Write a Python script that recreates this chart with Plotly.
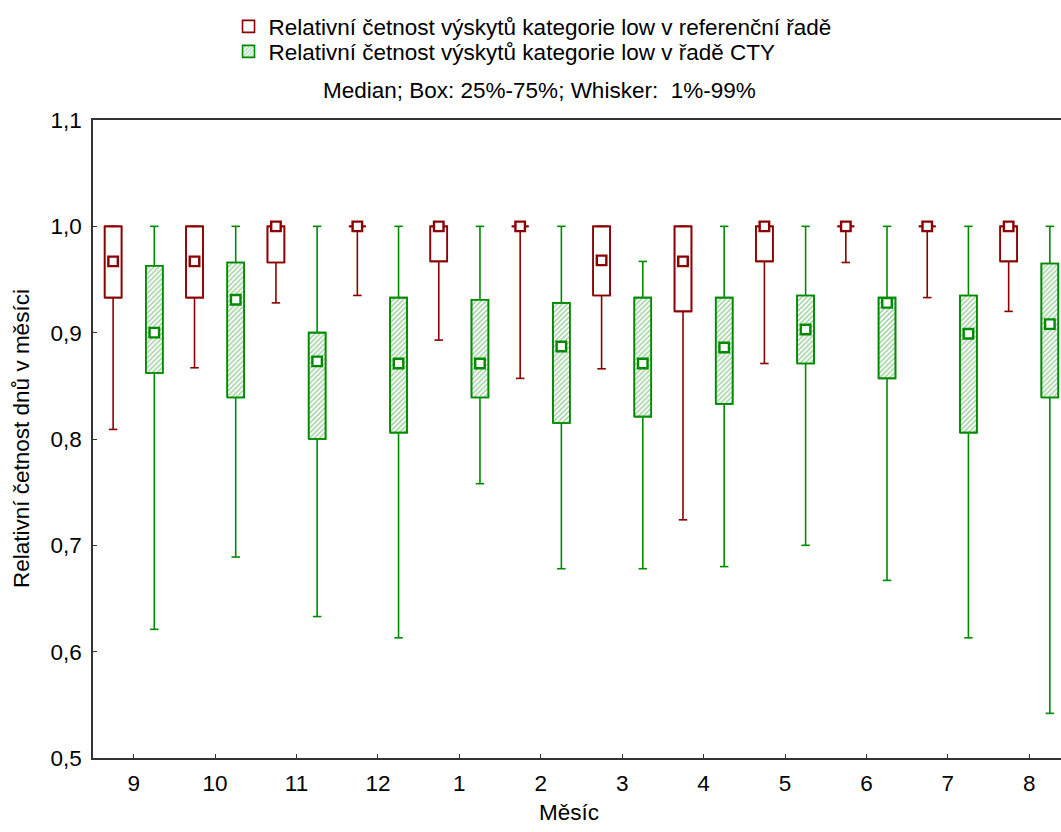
import plotly.graph_objects as go

# Months of the hydrological year, in plotting order
months = ["9", "10", "11", "12", "1", "2", "3", "4", "5", "6", "7", "8"]

# Reference series: 1 %, 25 %, median, 75 %, 99 %
ref_low = [0.809, 0.867, 0.928, 0.935, 0.893, 0.857, 0.866, 0.724, 0.871, 0.966, 0.933, 0.920]
ref_q1 = [0.933, 0.933, 0.966, 1.000, 0.967, 1.000, 0.935, 0.920, 0.967, 1.000, 1.000, 0.967]
ref_med = [0.967, 0.967, 1.000, 1.000, 1.000, 1.000, 0.968, 0.967, 1.000, 1.000, 1.000, 1.000]
ref_q3 = [1.000, 1.000, 1.000, 1.000, 1.000, 1.000, 1.000, 1.000, 1.000, 1.000, 1.000, 1.000]
ref_high = [1.000, 1.000, 1.000, 1.000, 1.000, 1.000, 1.000, 1.000, 1.000, 1.000, 1.000, 1.000]

# CTY series: 1 %, 25 %, median, 75 %, 99 %
cty_low = [0.621, 0.689, 0.633, 0.613, 0.758, 0.678, 0.678, 0.680, 0.700, 0.667, 0.613, 0.542]
cty_q1 = [0.862, 0.839, 0.800, 0.806, 0.839, 0.815, 0.821, 0.833, 0.871, 0.857, 0.806, 0.839]
cty_med = [0.900, 0.931, 0.873, 0.871, 0.871, 0.887, 0.871, 0.886, 0.903, 0.928, 0.899, 0.908]
cty_q3 = [0.963, 0.966, 0.900, 0.933, 0.931, 0.928, 0.933, 0.933, 0.935, 0.933, 0.935, 0.965]
cty_high = [1.000, 1.000, 1.000, 1.000, 1.000, 1.000, 0.967, 1.000, 1.000, 1.000, 1.000, 1.000]

RED = "#8b0000"
GREEN = "#008a00"
FONT = "Liberation Sans, Arial, sans-serif"
FS = 22.5

OFF = 0.253   # horizontal offset of each box from the month tick
BW = 0.208    # box width (axis units)
CAP = 0.104   # whisker cap width (axis units)

idx = list(range(len(months)))
x_ref = [i - OFF for i in idx]
x_cty = [i + OFF for i in idx]


def whiskers(xs, lo, q1, q3, hi):
    wx, wy = [], []
    for x, a, b, c, d in zip(xs, lo, q1, q3, hi):
        for y0, y1 in ((b, a), (c, d)):
            wx += [x, x, None, x - CAP / 2, x + CAP / 2, None]
            wy += [y0, y1, None, y1, y1, None]
    return wx, wy


def outlines(xs, q1, q3):
    ox, oy = [], []
    for x, b, c in zip(xs, q1, q3):
        l, r = x - BW / 2, x + BW / 2
        ox += [l, r, r, l, l, None]
        oy += [b, b, c, c, b, None]
    return ox, oy


fig = go.Figure()

series = [
    ("Relativní četnost výskytů kategorie low v referenční řadě", x_ref,
     ref_low, ref_q1, ref_med, ref_q3, ref_high, RED, None, "legend"),
    ("Relativní četnost výskytů kategorie low v řadě CTY", x_cty,
     cty_low, cty_q1, cty_med, cty_q3, cty_high, GREEN,
     dict(shape="/", fgcolor="#2e9a2e", bgcolor="white", size=3.5, solidity=0.4), "legend2"),
]

for name, xs, lo, q1, med, q3, hi, col, pat, leg in series:
    marker = dict(color="white", line=dict(color=col, width=1.6))
    if pat:
        marker["pattern"] = pat
    fig.add_trace(go.Bar(
        x=xs, base=q1, y=[c - b for b, c in zip(q1, q3)], width=BW,
        marker=marker, name=name, showlegend=True, legend=leg, hoverinfo="skip",
    ))
    wx, wy = whiskers(xs, lo, q1, q3, hi)
    fig.add_trace(go.Scatter(x=wx, y=wy, mode="lines", line=dict(color=col, width=1.6),
                             showlegend=False, hoverinfo="skip"))
    ox, oy = outlines(xs, q1, q3)
    fig.add_trace(go.Scatter(x=ox, y=oy, mode="lines", line=dict(color=col, width=1.6),
                             showlegend=False, hoverinfo="skip"))
    fig.add_trace(go.Scatter(
        x=xs, y=med, mode="markers",
        marker=dict(symbol="square", size=9.5, color="white", line=dict(color=col, width=2.4)),
        showlegend=False, hoverinfo="skip",
    ))

legend_common = dict(
    xanchor="left", yanchor="middle", bgcolor="rgba(0,0,0,0)",
    font=dict(family=FONT, size=FS, color="black"), itemclick=False,
)

fig.update_layout(
    width=1061, height=832,
    margin=dict(l=93, r=0, t=120, b=74),
    paper_bgcolor="white", plot_bgcolor="white",
    separators=", ",
    barmode="overlay",
    font=dict(family=FONT, size=FS, color="black"),
    showlegend=True,
    legend=dict(x=0.14, y=1 + (120 - 26.7) / 638, **legend_common),
    legend2=dict(x=0.14, y=1 + (120 - 51.7) / 638, **legend_common),
    xaxis=dict(
        range=[-0.5, 11.39], tickmode="array", tickvals=idx, ticktext=months,
        ticks="inside", ticklen=4, tickcolor="#333", showline=True, linecolor="#333",
        linewidth=1.5, mirror=True, showgrid=False, zeroline=False,
        ticklabelstandoff=4,
        tickfont=dict(family=FONT, size=FS, color="black"),
    ),
    yaxis=dict(
        range=[0.5, 1.1], tickmode="linear", tick0=0.5, dtick=0.1, tickformat=".1f",
        ticks="inside", ticklen=4, tickcolor="#333", showline=True, linecolor="#333",
        linewidth=1.5, showgrid=False, zeroline=False,
        ticklabelstandoff=5,
        tickfont=dict(family=FONT, size=FS, color="black"),
    ),
    annotations=[
        dict(text="Median; Box: 25%-75%; Whisker: \u00a01%-99%", x=0.461, y=1 + 30 / 638,
             xref="paper", yref="paper", xanchor="center", yanchor="middle",
             showarrow=False, font=dict(family=FONT, size=FS, color="black")),
        dict(text="Relativní četnost dnů v měsíci", x=-72 / 968, y=0.5,
             xref="paper", yref="paper", xanchor="center", yanchor="middle",
             textangle=-90, showarrow=False, font=dict(family=FONT, size=FS, color="black")),
        dict(text="Měsíc", x=476 / 968, y=-54 / 638,
             xref="paper", yref="paper", xanchor="center", yanchor="middle",
             showarrow=False, font=dict(family=FONT, size=FS, color="black")),
    ],
)

fig.write_html("out.html")
